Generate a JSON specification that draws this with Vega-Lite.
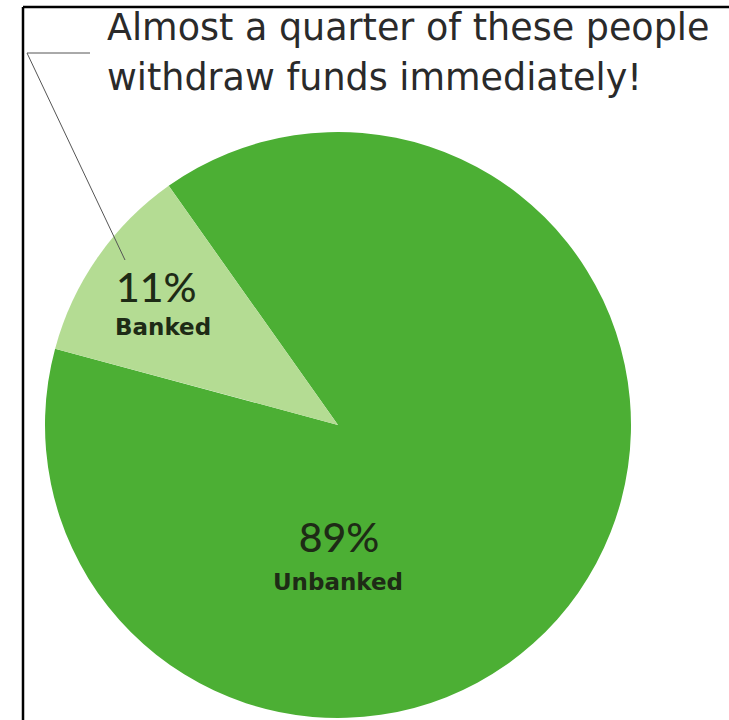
{
  "$schema": "https://vega.github.io/schema/vega-lite/v6.json",
  "width": 729,
  "height": 720,
  "autosize": {"type": "none"},
  "padding": 0,
  "background": "white",
  "config": {"view": {"stroke": null}},
  "data": {"values": [
    {"status": "Unbanked", "share": 0.89},
    {"status": "Banked", "share": 0.11}
  ]},
  "layer": [
    {
      "mark": {"type": "arc", "outerRadius": 293},
      "encoding": {
        "x": {"datum": 338, "type": "quantitative", "scale": {"domain": [0, 729], "nice": false, "zero": false}, "axis": null},
        "y": {"datum": 425, "type": "quantitative", "scale": {"domain": [720, 0], "nice": false, "zero": false}, "axis": null},
        "theta": {"field": "share", "type": "quantitative", "stack": true, "scale": {"range": [4.976, 11.259]}},
        "color": {"field": "status", "type": "nominal", "scale": {"domain": ["Banked", "Unbanked"], "range": ["#b4dc93", "#4caf34"]}, "legend": null},
        "order": {"field": "status", "sort": "ascending"}
      }
    },
    {
      "transform": [{"filter": "datum.status === 'Banked'"}],
      "mark": {"type": "text", "align": "left", "baseline": "alphabetic", "font": "Lato", "fontSize": 41, "fontWeight": 500, "color": "#1e2b16"},
      "encoding": {
        "x": {"datum": 116, "type": "quantitative"},
        "y": {"datum": 302, "type": "quantitative"},
        "text": {"field": "share", "type": "quantitative", "format": ".0%"}
      }
    },
    {
      "transform": [{"filter": "datum.status === 'Banked'"}],
      "mark": {"type": "text", "align": "left", "baseline": "alphabetic", "font": "DejaVu Sans", "fontSize": 23, "fontWeight": "bold", "color": "#1e2b16"},
      "encoding": {
        "x": {"datum": 115, "type": "quantitative"},
        "y": {"datum": 335, "type": "quantitative"},
        "text": {"field": "status", "type": "nominal"}
      }
    },
    {
      "transform": [{"filter": "datum.status === 'Unbanked'"}],
      "mark": {"type": "text", "align": "center", "baseline": "alphabetic", "font": "Lato", "fontSize": 41, "fontWeight": 500, "color": "#1e2b16"},
      "encoding": {
        "x": {"datum": 339, "type": "quantitative"},
        "y": {"datum": 552, "type": "quantitative"},
        "text": {"field": "share", "type": "quantitative", "format": ".0%"}
      }
    },
    {
      "transform": [{"filter": "datum.status === 'Unbanked'"}],
      "mark": {"type": "text", "align": "center", "baseline": "alphabetic", "font": "DejaVu Sans", "fontSize": 23, "fontWeight": "bold", "color": "#1e2b16"},
      "encoding": {
        "x": {"datum": 338, "type": "quantitative"},
        "y": {"datum": 590, "type": "quantitative"},
        "text": {"field": "status", "type": "nominal"}
      }
    },
    {
      "data": {"values": [{"note": "callout"}]},
      "mark": {"type": "text", "align": "left", "baseline": "alphabetic", "font": "DejaVu Sans", "fontSize": 36.5, "fontWeight": "normal", "color": "#2a2a2a", "lineHeight": 50,
        "text": ["Almost a quarter of these people", "withdraw funds immediately!"]},
      "encoding": {
        "x": {"datum": 107, "type": "quantitative"},
        "y": {"datum": 40, "type": "quantitative"}
      }
    },
    {
      "data": {"values": [{"note": "callout"}]},
      "mark": {"type": "rule", "color": "#555555", "strokeWidth": 1},
      "encoding": {
        "x": {"datum": 90, "type": "quantitative"},
        "y": {"datum": 53, "type": "quantitative"},
        "x2": {"datum": 27},
        "y2": {"datum": 53}
      }
    },
    {
      "data": {"values": [{"note": "callout"}]},
      "mark": {"type": "rule", "color": "#555555", "strokeWidth": 1},
      "encoding": {
        "x": {"datum": 27, "type": "quantitative"},
        "y": {"datum": 53, "type": "quantitative"},
        "x2": {"datum": 125},
        "y2": {"datum": 260}
      }
    },
    {
      "data": {"values": [{"note": "frame"}]},
      "mark": {"type": "rule", "color": "#000000", "strokeWidth": 2.5},
      "encoding": {
        "x": {"datum": 23, "type": "quantitative"},
        "y": {"datum": 7, "type": "quantitative"},
        "x2": {"datum": 23},
        "y2": {"datum": 720}
      }
    },
    {
      "data": {"values": [{"note": "frame"}]},
      "mark": {"type": "rule", "color": "#000000", "strokeWidth": 2.5},
      "encoding": {
        "x": {"datum": 23, "type": "quantitative"},
        "y": {"datum": 7, "type": "quantitative"},
        "x2": {"datum": 729},
        "y2": {"datum": 7}
      }
    }
  ]
}
